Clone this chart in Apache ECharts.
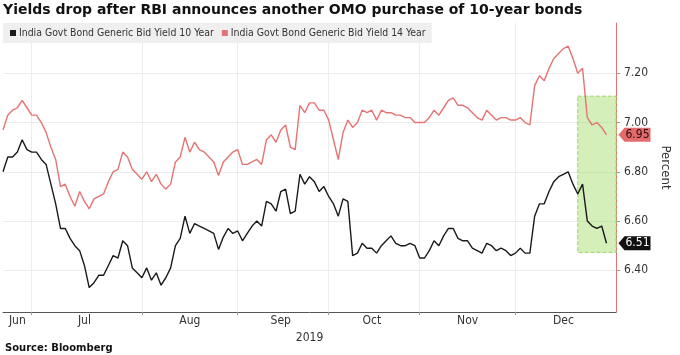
<!DOCTYPE html>
<html>
<head>
<meta charset="utf-8">
<script src="https://cdn.jsdelivr.net/npm/echarts@6/dist/echarts.min.js"></script>
<style>
  html, body { margin: 0; padding: 0; background: #fff; }
  #chart { width: 680px; height: 355px; }
</style>
</head>
<body>
<div id="chart"></div>
<script>
// ---- data ----
const monthNames = ['Jun', 'Jul', 'Aug', 'Sep', 'Oct', 'Nov', 'Dec'];
const monthTradingDays = [6, 23, 20, 19, 19, 20, 22];
const monthLabelDay = [4, 12, 11, 10, 10, 11, 11]; // trading day within month where month label sits
const yearLabel = '2019';

const seriesNames = ['India Govt Bond Generic Bid Yield 10 Year', 'India Govt Bond Generic Bid Yield 14 Year'];

const yield10 = [
  6.80, 6.86, 6.86, 6.88, 6.93, 6.89, 6.88, 6.88, 6.85, 6.83,
  6.75, 6.67, 6.57, 6.57, 6.53, 6.50, 6.48, 6.42, 6.33, 6.35,
  6.38, 6.38, 6.42, 6.46, 6.45, 6.52, 6.50, 6.41, 6.39, 6.37,
  6.41, 6.36, 6.39, 6.34, 6.37, 6.41, 6.50, 6.53, 6.62, 6.55,
  6.59, 6.58, 6.57, 6.56, 6.55, 6.485, 6.535, 6.57, 6.55, 6.56,
  6.52, 6.55, 6.58, 6.60, 6.58, 6.68, 6.67, 6.64, 6.72, 6.73,
  6.63, 6.64, 6.79, 6.75, 6.78, 6.76, 6.72, 6.74, 6.70, 6.67,
  6.62, 6.69, 6.68, 6.46, 6.47, 6.51, 6.49, 6.49, 6.47, 6.50,
  6.52, 6.54, 6.51, 6.50, 6.50, 6.51, 6.50, 6.45, 6.45, 6.48,
  6.52, 6.50, 6.54, 6.57, 6.57, 6.53, 6.52, 6.52, 6.49, 6.48,
  6.47, 6.51, 6.50, 6.48, 6.49, 6.48, 6.46, 6.47, 6.49, 6.47,
  6.47, 6.62, 6.67, 6.67, 6.72, 6.76, 6.78, 6.79, 6.80, 6.75,
  6.71, 6.75, 6.60, 6.58, 6.57, 6.58, 6.51
];
const yield14 = [
  6.97, 7.03, 7.05, 7.06, 7.09, 7.06, 7.03, 7.03, 7.00, 6.96,
  6.90, 6.85, 6.74, 6.75, 6.70, 6.66, 6.72, 6.68, 6.65, 6.69,
  6.70, 6.71, 6.76, 6.80, 6.81, 6.88, 6.86, 6.81, 6.79, 6.77,
  6.80, 6.76, 6.79, 6.75, 6.73, 6.75, 6.84, 6.86, 6.94, 6.88,
  6.92, 6.89, 6.88, 6.86, 6.84, 6.785, 6.84, 6.86, 6.88, 6.89,
  6.83, 6.83, 6.84, 6.85, 6.83, 6.93, 6.95, 6.92, 6.97, 6.99,
  6.90, 6.89, 7.07, 7.04, 7.08, 7.08, 7.05, 7.05, 7.01, 6.93,
  6.85, 6.96, 7.01, 6.98, 7.00, 7.05, 7.04, 7.05, 7.01, 7.05,
  7.04, 7.04, 7.03, 7.03, 7.02, 7.02, 7.00, 7.00, 7.00, 7.02,
  7.05, 7.03, 7.06, 7.09, 7.10, 7.07, 7.07, 7.06, 7.04, 7.02,
  7.01, 7.05, 7.03, 7.01, 7.02, 7.02, 7.01, 7.01, 7.02, 7.00,
  6.99, 7.15, 7.19, 7.17, 7.22, 7.26, 7.28, 7.30, 7.31, 7.26,
  7.20, 7.22, 7.02, 6.99, 7.00, 6.98, 6.95
];
const yTickValues = [6.40, 6.60, 6.80, 7.00, 7.20];
const highlightFromDay = { month: 'Dec', day: 14 };
const highlightRange = [6.473, 7.107];

// ---- build categories ----
const categories = [];
const boundaryIdx = new Set();
const labelIdx = new Set();
monthNames.forEach((m, mi) => {
  if (mi > 0) boundaryIdx.add(categories.length);
  labelIdx.add(categories.length + monthLabelDay[mi] - 1);
  for (let d = 1; d <= monthTradingDays[mi]; d++) categories.push(m + ' ' + d);
});
const highlightStart = highlightFromDay.month + ' ' + highlightFromDay.day;
const lastIdx = yield10.length - 1;

const FONT = "'Liberation Sans Narrow', 'DejaVu Sans Condensed', 'Roboto Condensed', Roboto, sans-serif";
const TITLE_FONT = "'DejaVu Sans', Verdana, sans-serif";

const arrowPath = 'path://M0,7 L6,0 L32,0 L32,14 L6,14 Z';

const chart = echarts.init(document.getElementById('chart'), null, { renderer: 'canvas' });
chart.setOption({
  animation: false,
  backgroundColor: '#ffffff',
  title: [
    {
      text: 'Yields drop after RBI announces another OMO purchase of 10-year bonds',
      left: -2, top: -2,
      textStyle: { fontFamily: TITLE_FONT, fontWeight: 'bold', fontSize: 14, color: '#111' }
    },
    {
      text: 'Source: Bloomberg',
      left: 0, top: 338,
      textStyle: { fontFamily: TITLE_FONT, fontWeight: 'bold', fontSize: 10, color: '#111' }
    }
  ],
  legend: {
    data: seriesNames,
    left: 3, top: 23,
    padding: [5, 6, 5, 7],
    backgroundColor: '#efefef',
    icon: 'rect',
    itemWidth: 6, itemHeight: 6, itemGap: 8,
    textStyle: { fontFamily: FONT, fontSize: 10.4, color: '#333', padding: [0, 0, 0, -2] }
  },
  grid: { left: 3, right: 60, top: 23, bottom: 43 },
  xAxis: {
    type: 'category',
    data: categories,
    boundaryGap: false,
    name: yearLabel,
    nameLocation: 'middle',
    nameGap: 8,
    nameTextStyle: { fontFamily: FONT, fontSize: 12, color: '#333', verticalAlign: 'top' },
    axisLine: { lineStyle: { color: '#555', width: 1 } },
    axisTick: {
      show: true, length: 3, lineStyle: { color: '#999' },
      interval: (i) => boundaryIdx.has(i)
    },
    axisLabel: {
      interval: (i) => labelIdx.has(i),
      formatter: (v) => v.split(' ')[0],
      fontFamily: FONT, fontSize: 12, color: '#333', margin: 3
    },
    splitLine: {
      show: true,
      interval: (i) => boundaryIdx.has(i),
      lineStyle: { color: '#ececec', width: 1 }
    }
  },
  yAxis: {
    type: 'value',
    position: 'right',
    min: 6.231, max: 7.404,
    name: 'Percent',
    nameLocation: 'middle',
    nameRotate: -90,
    nameGap: 38,
    nameTextStyle: { fontFamily: FONT, fontSize: 13, color: '#333' },
    axisLine: { show: true, lineStyle: { color: '#e57373', width: 1 } },
    axisTick: { show: true, length: 4, lineStyle: { color: '#999' }, customValues: yTickValues },
    axisLabel: {
      customValues: yTickValues,
      formatter: (v) => v.toFixed(2),
      fontFamily: FONT, fontSize: 12, color: '#333', margin: 8
    },
    splitLine: { show: true, lineStyle: { color: '#ececec', width: 1 } }
  },
  series: [
    {
      name: seriesNames[0], type: 'line', data: yield10, z: 2,
      showSymbol: false, symbol: 'none',
      itemStyle: { color: '#1a1a1a' },
      lineStyle: { color: '#1a1a1a', width: 1.4 }
    },
    {
      name: seriesNames[1], type: 'line', data: yield14, z: 2,
      showSymbol: false, symbol: 'none',
      itemStyle: { color: '#e57373' },
      lineStyle: { color: '#e57373', width: 1.4 }
    },
    {
      name: 'highlight', type: 'line', data: [], z: 4,
      markArea: {
        silent: true,
        itemStyle: {
          color: 'rgba(160,220,100,0.45)',
          borderColor: '#9fd36a', borderWidth: 1, borderType: 'dashed'
        },
        data: [[
          { xAxis: highlightStart, yAxis: highlightRange[1] },
          { xAxis: categories[categories.length - 1], yAxis: highlightRange[0] }
        ]]
      }
    },
    {
      name: 'endLabels', type: 'line', data: [], z: 10,
      markPoint: {
        silent: true,
        symbol: arrowPath,
        symbolSize: [32, 14],
        symbolKeepAspect: false,
        symbolOffset: [28, 0],
        data: [
          {
            coord: [lastIdx, yield14[lastIdx]], value: yield14[lastIdx],
            itemStyle: { color: '#e36b6b' },
            label: { show: true, formatter: (p) => p.value.toFixed(2), color: '#2a0a0a',
              fontFamily: FONT, fontSize: 12, offset: [3, 0] }
          },
          {
            coord: [lastIdx, yield10[lastIdx]], value: yield10[lastIdx],
            itemStyle: { color: '#111' },
            label: { show: true, formatter: (p) => p.value.toFixed(2), color: '#fff',
              fontFamily: FONT, fontSize: 12, offset: [3, 0] }
          }
        ]
      }
    }
  ]
});
</script>
</body>
</html>
